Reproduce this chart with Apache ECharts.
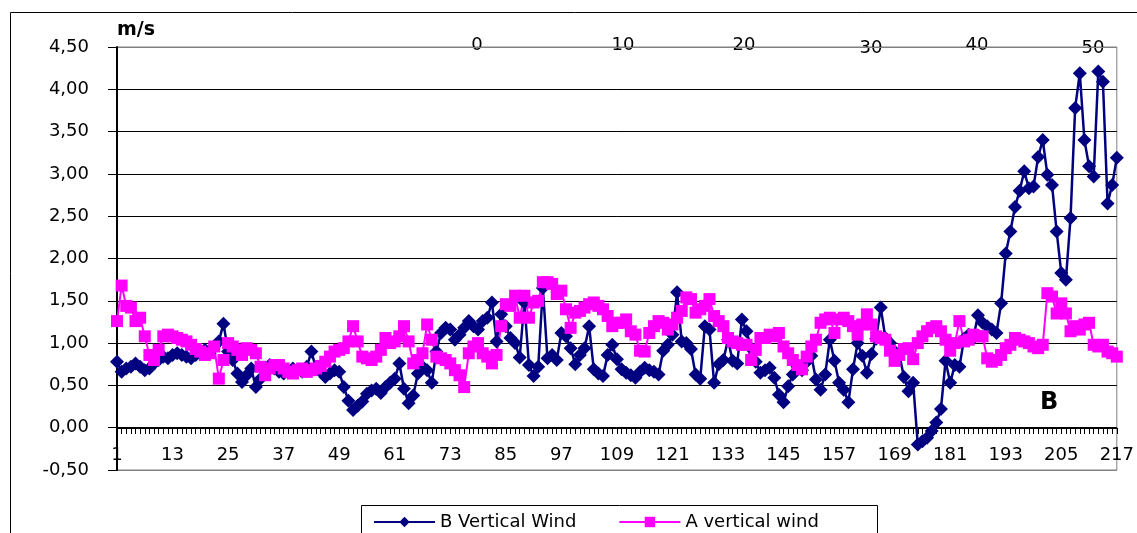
<!DOCTYPE html>
<html>
<head>
<meta charset="utf-8">
<script src="https://cdn.jsdelivr.net/npm/echarts@6/dist/echarts.min.js"></script>
<style>
  html, body { margin: 0; padding: 0; background: #fff; }
  #chart { width: 1137px; height: 533px; }
</style>
</head>
<body>
<div id="chart"></div>
<script>
// categories 1..217 (sample number)
const categories = [];
for (let i = 1; i <= 217; i++) categories.push(String(i));

const bVertical = [
  0.78, 0.66, 0.70, 0.72, 0.76, 0.72, 0.68, 0.70, 0.76, 0.80,
  0.84, 0.82, 0.86, 0.88, 0.86, 0.84, 0.82, 0.86, 0.90, 0.92,
  0.88, 0.96, 1.02, 1.23, 0.90, 0.80, 0.64, 0.54, 0.62, 0.70,
  0.48, 0.58, 0.70, 0.74, 0.70, 0.66, 0.64, 0.66, 0.70, 0.68,
  0.66, 0.72, 0.90, 0.70, 0.66, 0.60, 0.64, 0.68, 0.66, 0.48,
  0.32, 0.21, 0.26, 0.31, 0.40, 0.44, 0.46, 0.41, 0.48, 0.53,
  0.58, 0.76, 0.46, 0.29, 0.38, 0.64, 0.72, 0.68, 0.53, 0.90,
  1.12, 1.18, 1.16, 1.04, 1.10, 1.18, 1.26, 1.20, 1.16, 1.26,
  1.30, 1.48, 1.02, 1.34, 1.20, 1.06, 1.00, 0.83, 1.48, 0.74,
  0.61, 0.72, 1.65, 0.82, 0.86, 0.80, 1.12, 1.08, 0.94, 0.75,
  0.86, 0.94, 1.20, 0.69, 0.64, 0.61, 0.86, 0.98, 0.81, 0.69,
  0.65, 0.62, 0.59, 0.66, 0.71, 0.68, 0.66, 0.63, 0.91, 0.98,
  1.10, 1.60, 1.02, 1.00, 0.93, 0.63, 0.58, 1.20, 1.16, 0.53,
  0.75, 0.80, 1.04, 0.79, 0.76, 1.28, 1.14, 0.94, 0.78, 0.65,
  0.68, 0.71, 0.59, 0.39, 0.30, 0.49, 0.63, 0.72, 0.68, 0.78,
  0.85, 0.57, 0.45, 0.63, 1.04, 0.79, 0.53, 0.45, 0.30, 0.69,
  1.00, 0.85, 0.65, 0.87, 1.05, 1.42, 1.06, 1.00, 0.90, 0.87,
  0.60, 0.43, 0.53, -0.20, -0.16, -0.12, -0.04, 0.06, 0.22, 0.79,
  0.53, 0.74, 0.72, 1.05, 1.10, 1.06, 1.33, 1.24, 1.20, 1.16,
  1.12, 1.47, 2.06, 2.32, 2.61, 2.80, 3.03, 2.83, 2.85, 3.20,
  3.40, 2.99, 2.87, 2.32, 1.83, 1.75, 2.48, 3.78, 4.19, 3.40,
  3.09, 2.97, 4.21, 4.09, 2.65, 2.87, 3.19
];

const aVertical = [
  1.26, 1.68, 1.44, 1.42, 1.26, 1.30, 1.08, 0.86, 0.80, 0.92,
  1.08, 1.10, 1.08, 1.06, 1.04, 1.02, 0.98, 0.93, 0.90, 0.86,
  0.88, 0.96, 0.58, 0.80, 1.00, 0.96, 0.92, 0.86, 0.94, 0.92,
  0.88, 0.72, 0.62, 0.70, 0.74, 0.74, 0.70, 0.66, 0.64, 0.68,
  0.70, 0.66, 0.68, 0.70, 0.73, 0.78, 0.84, 0.90, 0.92, 0.94,
  1.02, 1.20, 1.02, 0.84, 0.82, 0.80, 0.84, 0.92, 1.06, 1.00,
  1.02, 1.08, 1.20, 1.02, 0.76, 0.80, 0.88, 1.22, 1.04, 0.84,
  0.82, 0.80, 0.76, 0.68, 0.62, 0.48, 0.88, 0.96, 1.00, 0.88,
  0.84, 0.76, 0.86, 1.20, 1.46, 1.44, 1.56, 1.30, 1.56, 1.30,
  1.48, 1.50, 1.72, 1.72, 1.70, 1.58, 1.62, 1.40, 1.18, 1.36,
  1.38, 1.42, 1.46, 1.48, 1.44, 1.40, 1.32, 1.20, 1.24, 1.24,
  1.28, 1.14, 1.10, 0.91, 0.90, 1.12, 1.20, 1.26, 1.24, 1.16,
  1.22, 1.30, 1.38, 1.54, 1.52, 1.36, 1.40, 1.44, 1.52, 1.32,
  1.26, 1.20, 1.06, 1.02, 1.00, 0.98, 0.98, 0.80, 0.92, 1.06,
  1.06, 1.10, 1.08, 1.12, 0.96, 0.88, 0.80, 0.74, 0.69, 0.84,
  0.96, 1.04, 1.24, 1.28, 1.30, 1.12, 1.28, 1.30, 1.26, 1.20,
  1.10, 1.22, 1.34, 1.22, 1.08, 1.06, 1.04, 0.91, 0.79, 0.86,
  0.93, 0.94, 0.81, 1.00, 1.08, 1.14, 1.18, 1.20, 1.14, 1.04,
  0.91, 1.00, 1.26, 1.02, 1.04, 1.10, 1.08, 1.08, 0.82, 0.78,
  0.80, 0.86, 0.94, 0.98, 1.06, 1.04, 1.02, 1.00, 0.96, 0.94,
  0.98, 1.59, 1.55, 1.35, 1.47, 1.35, 1.14, 1.20, 1.16, 1.22,
  1.24, 0.98, 0.96, 0.98, 0.90, 0.88, 0.84
];

// second row of numbers printed along the top of the plot
const topLabels = ['0', '10', '20', '30', '40', '50'];
const topLabelX = [477, 623, 744, 871, 977, 1093];
const topLabelY = [45, 45, 45, 48, 45, 48];

const FONT = 'DejaVu Sans';
const chart = echarts.init(document.getElementById('chart'), null, { renderer: 'canvas' });

// gridline colours: bottom/top edge grey, inner lines black
const splitColors = ['#808080', '#000', '#000', '#000', '#000', '#000', '#000', '#000', '#000', '#000', '#808080'];

const graphics = [
  { type: 'rect', shape: { x: 10.5, y: 12.5, width: 1300, height: 700 },
    style: { fill: 'none', stroke: '#000', lineWidth: 1 }, z: -1, silent: true },
  // keep the area under the plot clean
  { type: 'rect', shape: { x: 100, y: 473, width: 30, height: 30 },
    style: { fill: '#fff' }, z: 100, silent: true },
  { type: 'rect', shape: { x: 361.5, y: 505.5, width: 516, height: 60 },
    style: { fill: '#fff', stroke: '#000', lineWidth: 1 }, z: 0, silent: true },
  { type: 'text', left: 117, top: 21,
    style: { text: 'm/s', font: 'bold 19px "' + FONT + '"', fill: '#000' } },
  { type: 'text', left: 1040, top: 391,
    style: { text: 'B', font: 'bold 24px "' + FONT + '"', fill: '#000' } }
];
topLabels.forEach((t, k) => {
  graphics.push({
    type: 'text', x: topLabelX[k], y: topLabelY[k],
    style: { text: t, font: '18px "' + FONT + '"', fill: '#000', align: 'center', verticalAlign: 'middle' }
  });
});

chart.setOption({
  animation: false,
  backgroundColor: '#fff',
  textStyle: { fontFamily: FONT },
  grid: { left: 117, right: 15, top: 47, bottom: 63, show: true, borderColor: '#808080', borderWidth: 1 },
  legend: {
    left: 368, top: 508,
    itemWidth: 61, itemHeight: 13, itemGap: 42,
    textStyle: { fontSize: 18, color: '#000', fontFamily: FONT },
    data: ['B Vertical Wind', 'A vertical wind'],
    z: 5
  },
  xAxis: {
    type: 'category',
    data: categories,
    boundaryGap: false,
    position: 'bottom',
    offset: -42, // axis sits on the 0,00 line
    axisLine: { onZero: false, lineStyle: { color: '#000', width: 1 } },
    axisTick: { show: true, interval: 0, length: 6, lineStyle: { color: '#000' } },
    axisLabel: { interval: 11, margin: 18, fontSize: 18, color: '#000', fontFamily: FONT },
    splitLine: { show: false }
  },
  yAxis: {
    type: 'value',
    min: -0.5, max: 4.5, interval: 0.5,
    axisLine: { show: true, onZero: false, lineStyle: { color: '#000', width: 2 } },
    axisTick: { show: true, length: 9, lineStyle: { color: '#000' } },
    axisLabel: {
      margin: 28, fontSize: 18, color: '#000', fontFamily: FONT,
      formatter: v => v.toFixed(2).replace('.', ',')
    },
    splitLine: { show: true, lineStyle: { color: splitColors, width: 1 } }
  },
  series: [
    {
      name: 'B Vertical Wind', type: 'line', data: bVertical,
      symbol: 'diamond', symbolSize: 14, showAllSymbol: true,
      lineStyle: { color: '#000080', width: 2.5 },
      itemStyle: { color: '#000080' }
    },
    {
      name: 'A vertical wind', type: 'line', data: aVertical,
      symbol: 'rect', symbolSize: 12, showAllSymbol: true,
      lineStyle: { color: '#ff00ff', width: 2 },
      itemStyle: { color: '#ff00ff' }
    }
  ],
  graphic: graphics
});
</script>
</body>
</html>
